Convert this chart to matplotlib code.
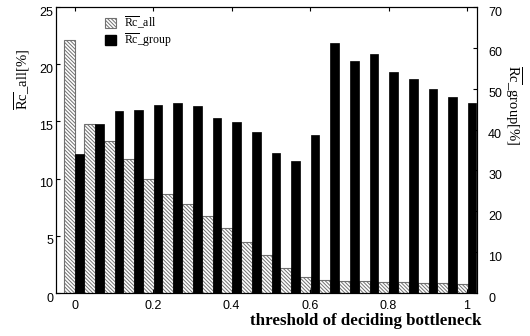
import numpy as np
import matplotlib
matplotlib.use('Agg')
import matplotlib.pyplot as plt
from matplotlib.patches import Patch
from matplotlib.transforms import ScaledTranslation

plt.rcParams['font.family'] = 'Liberation Sans'
plt.rcParams['mathtext.fontset'] = 'custom'
plt.rcParams['mathtext.rm'] = 'Liberation Serif'
plt.rcParams['hatch.color'] = '#707070'
plt.rcParams['hatch.linewidth'] = 0.7

threshold = [0.0, 0.05, 0.1, 0.15, 0.2, 0.25, 0.3, 0.35, 0.4, 0.45, 0.5,
             0.55, 0.6, 0.65, 0.7, 0.75, 0.8, 0.85, 0.9, 0.95, 1.0]
rc_all = [22.1, 14.8, 13.3, 11.7, 10.0, 8.65, 7.8, 6.7, 5.7, 4.45, 3.3,
          2.2, 1.4, 1.17, 1.05, 1.05, 0.93, 0.93, 0.9, 0.87, 0.82]
rc_group = [34.1, 41.4, 44.5, 44.7, 46.0, 46.4, 45.7, 42.8, 41.8, 39.5, 34.3,
            32.2, 38.7, 61.1, 56.7, 58.4, 54.1, 52.3, 49.9, 47.9, 46.4]

lbl_all = r'$\overline{\mathrm{Rc}}$_all'
lbl_group = r'$\overline{\mathrm{Rc}}$_group'
serif = 'Liberation Serif'
hatch = '\\' * 9

fig = plt.figure(figsize=(5.3, 3.36), dpi=100)
ax1 = fig.add_axes([56/530, 1-293/336, 421/530, 286/336])
ax2 = ax1.twinx()

x = np.array(threshold)
ax1.bar(x - 0.026, rc_all, width=0.028, align='edge', facecolor='white',
        edgecolor='#707070', hatch=hatch, linewidth=0.8)
ax2.bar(x + 0.002, rc_group, width=0.022, align='edge', color='black',
        edgecolor='black', linewidth=0.5)

ax1.set_xlim(-0.0474, 1.0255)
ax1.set_ylim(0, 25)
ax2.set_ylim(0, 70)
ax1.set_xticks([0, 0.2, 0.4, 0.6, 0.8, 1.0])
ax1.set_xticklabels(['0', '0.2', '0.4', '0.6', '0.8', '1'])
ax1.set_yticks([0, 5, 10, 15, 20, 25])
ax2.set_yticks([0, 10, 20, 30, 40, 50, 60, 70])

ax1.tick_params(direction='in', top=True, length=3, labelsize=9, pad=2)
ax1.tick_params(axis='x', pad=5)
ax2.tick_params(direction='in', length=3, labelsize=9, pad=8)

for ax in (ax1, ax2):
    for s in ax.spines.values():
        s.set_linewidth(0.8)

# labels sit a bit below their ticks in the original
off = ScaledTranslation(0, -4/100, fig.dpi_scale_trans)
for t in ax1.get_yticklabels() + ax2.get_yticklabels():
    t.set_transform(t.get_transform() + off)

ax1.text(-34/421, (293-80)/286, lbl_all + '[%]', transform=ax1.transAxes,
         rotation=90, ha='center', va='center', fontsize=10.5, family=serif)
ax1.text((513-56)/421, (293-105)/286, lbl_group + '[%]', transform=ax1.transAxes,
         rotation=-90, ha='center', va='center', fontsize=10.5, family=serif)
ax1.text((366-56)/421, (293-321)/286, 'threshold of deciding bottleneck',
         transform=ax1.transAxes, ha='center', va='center', fontsize=12.2,
         fontweight='bold', family=serif)

h1 = Patch(facecolor='white', edgecolor='#707070', hatch=hatch, linewidth=0.8)
h2 = Patch(facecolor='black', edgecolor='black')
ax2.legend([h1, h2], [lbl_all, lbl_group], loc='upper left',
           bbox_to_anchor=(49/421, 0.975), frameon=False, borderpad=0,
           borderaxespad=0, handlelength=0.9, handleheight=0.9,
           handletextpad=0.7, labelspacing=0.05,
           prop={'family': serif, 'size': 8.5})

fig.savefig('out.png', dpi=100)
